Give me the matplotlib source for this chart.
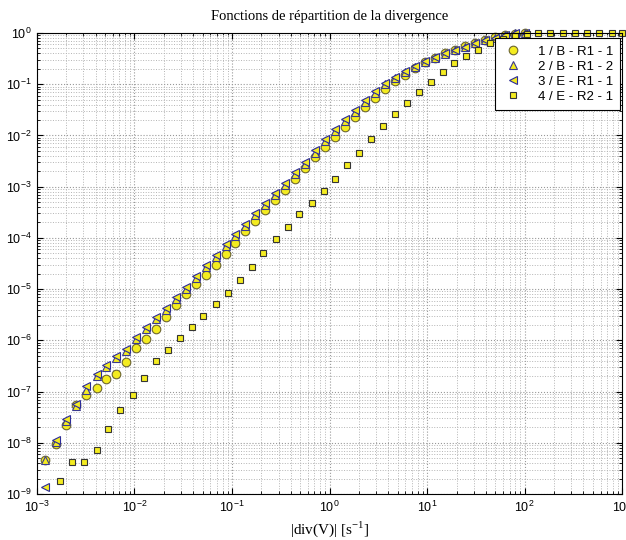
import matplotlib
matplotlib.use("Agg")
import matplotlib.pyplot as plt

# ==============================
# Data
# ==============================

# common abscissa of series 1-3
x_tri = [1.21e-3, 1.57e-3, 1.98e-3, 2.51e-3, 3.18e-3, 4.12e-3, 5.10e-3, 6.46e-3,
         8.18e-3, 1.036e-2, 1.31e-2, 1.66e-2, 2.10e-2, 2.66e-2, 3.37e-2, 4.27e-2,
         5.41e-2, 6.85e-2, 8.68e-2, 0.107, 0.136, 0.172, 0.218, 0.276, 0.350,
         0.443, 0.561, 0.710, 0.899, 1.14, 1.44, 1.83, 2.31, 2.93, 3.71, 4.70,
         5.95, 7.53, 9.53, 12.1, 15.3, 19.4, 24.5, 31.1, 39.4, 49.8, 63.1, 79.9,
         101.0]

y_s1 = [4.64e-9, 9.55e-9, 2.25e-8, 5.56e-8, 8.73e-8, 1.20e-7, 1.80e-7, 2.25e-7,
        3.71e-7, 6.97e-7, 1.05e-6, 1.64e-6, 2.83e-6, 4.86e-6, 7.97e-6, 1.25e-5,
        1.88e-5, 2.96e-5, 4.86e-5, 7.97e-5, 1.37e-4, 2.15e-4, 3.54e-4, 5.56e-4,
        8.73e-4, 1.43e-3, 2.36e-3, 3.71e-3, 5.82e-3, 9.14e-3, 1.43e-2, 2.25e-2,
        3.54e-2, 5.31e-2, 7.97e-2, 0.115, 0.150, 0.206, 0.270, 0.324, 0.405,
        0.464, 0.556, 0.637, 0.729, 0.835, 0.914, 0.956, 1.0]

y_s2 = [4.64e-9, 1.05e-8, 2.70e-8, 5.31e-8, 1.09e-7, 2.06e-7, 3.09e-7, 4.44e-7,
        6.08e-7, 1.05e-6, 1.64e-6, 2.58e-6, 3.87e-6, 6.37e-6, 1.00e-5, 1.64e-5,
        2.70e-5, 4.24e-5, 6.97e-5, 1.09e-4, 1.72e-4, 2.83e-4, 4.44e-4, 6.97e-4,
        1.09e-3, 1.80e-3, 2.83e-3, 4.64e-3, 7.63e-3, 1.20e-2, 1.88e-2, 2.83e-2,
        4.44e-2, 6.66e-2, 0.100, 0.131, 0.172, 0.216, 0.270, 0.331, 0.396,
        0.464, 0.531, 0.637, 0.729, 0.798, 0.914, 0.978, 1.0]

y_s3 = [1.37e-9, 1.15e-8, 2.96e-8, 5.82e-8, 1.31e-7, 2.25e-7, 3.38e-7, 4.85e-7,
        6.66e-7, 1.15e-6, 1.80e-6, 2.83e-6, 4.24e-6, 6.97e-6, 1.09e-5, 1.80e-5,
        2.96e-5, 4.64e-5, 7.63e-5, 1.20e-4, 1.88e-4, 3.09e-4, 4.86e-4, 7.62e-4,
        1.20e-3, 1.97e-3, 3.09e-3, 5.08e-3, 8.35e-3, 1.31e-2, 2.06e-2, 3.09e-2,
        4.86e-2, 7.29e-2, 0.105, 0.137, 0.180, 0.225, 0.282, 0.338, 0.405,
        0.464, 0.531, 0.637, 0.729, 0.798, 0.914, 0.978, 1.0]

# series 4 has its own abscissa
x_s4 = [1.72e-3, 2.29e-3, 3.03e-3, 4.12e-3, 5.35e-3, 7.10e-3, 9.66e-3, 1.25e-2,
        1.66e-2, 2.21e-2, 2.93e-2, 3.89e-2, 5.05e-2, 6.85e-2, 9.10e-2, 0.121,
        0.160, 0.208, 0.282, 0.375, 0.486, 0.662, 0.879, 1.14, 1.51, 2.01, 2.67,
        3.54, 4.70, 6.24, 8.28, 11.0, 14.6, 18.9, 25.1, 33.3, 44.3, 60.1, 79.9,
        106.0, 137.0, 183.0, 248.0, 330.0, 438.0, 581.0, 789.0, 1000.0]

y_s4 = [1.80e-9, 4.24e-9, 4.24e-9, 7.29e-9, 1.88e-8, 4.44e-8, 8.73e-8, 1.88e-7,
        3.88e-7, 6.37e-7, 1.09e-6, 1.80e-6, 2.96e-6, 5.08e-6, 8.35e-6, 1.50e-5,
        2.70e-5, 5.08e-5, 9.55e-5, 1.64e-4, 2.96e-4, 4.86e-4, 8.35e-4, 1.43e-3,
        2.70e-3, 4.64e-3, 8.35e-3, 1.50e-2, 2.58e-2, 4.24e-2, 6.97e-2, 0.109,
        0.172, 0.258, 0.354, 0.464, 0.637, 0.763, 0.874, 0.956, 1.0, 1.0, 1.0,
        1.0, 1.0, 1.0, 1.0, 1.0]

labels = ["1 / B - R1 - 1", "2 / B - R1 - 2", "3 / E - R1 - 1", "4 / E - R2 - 1"]

# ==============================
# Style
# ==============================

plt.rcParams["font.family"] = ["Liberation Sans", "DejaVu Sans"]
plt.rcParams["font.size"] = 9

YELLOW = "#f4ec20"

fig = plt.figure(figsize=(6.26, 5.40), dpi=100)
ax = fig.add_axes([0.059, 0.085, 0.935, 0.854])

ax.plot(x_tri, y_s1, linestyle="none", marker="o", ms=6.2, mfc=YELLOW,
        mec="#6b6530", mew=0.8, label=labels[0], clip_on=False)
ax.plot(x_tri, y_s2, linestyle="none", marker="^", ms=5.5, mfc=YELLOW,
        mec="#3a3a90", mew=0.8, label=labels[1], clip_on=False)
ax.plot(x_tri, y_s3, linestyle="none", marker="<", ms=5.5, mfc=YELLOW,
        mec="#2c2c9a", mew=0.8, label=labels[2], clip_on=False)
ax.plot(x_s4, y_s4, linestyle="none", marker="s", ms=5.0, mfc=YELLOW,
        mec="#353535", mew=0.8, label=labels[3], clip_on=False)

ax.set_xscale("log")
ax.set_yscale("log")
ax.set_xlim(1e-3, 1e3)
ax.set_ylim(1e-9, 1e0)

ax.xaxis.set_major_locator(matplotlib.ticker.LogLocator(base=10, numticks=10))
ax.yaxis.set_major_locator(matplotlib.ticker.LogLocator(base=10, numticks=12))
ax.xaxis.set_minor_locator(matplotlib.ticker.LogLocator(base=10, subs=range(2, 10), numticks=12))
ax.yaxis.set_minor_locator(matplotlib.ticker.LogLocator(base=10, subs=range(2, 10), numticks=12))

ax.grid(True, which="major", linestyle=":", color="#999999", linewidth=0.8)
ax.grid(True, which="minor", linestyle=":", color="#b4b4b4", linewidth=0.7)
ax.set_axisbelow(True)

ax.tick_params(which="both", direction="in", top=True, right=True)
ax.tick_params(which="major", length=4, labelsize=9, pad=4)
ax.tick_params(which="minor", length=2)
for s in ax.spines.values():
    s.set_linewidth(0.8)

ax.set_title("Fonctions de répartition de la divergence",
             family="Liberation Serif", fontsize=10.5, pad=9)
ax.set_xlabel(r"|div(V)| [s$^{\mathdefault{-1}}$]",
              family="Liberation Serif", fontsize=11, labelpad=3)

leg = ax.legend(loc="upper right", bbox_to_anchor=(0.997, 0.988),
                fancybox=False, framealpha=1, edgecolor="black",
                fontsize=9.5, handlelength=1.6, handletextpad=1.1,
                borderpad=0.55, labelspacing=0.2, borderaxespad=0)
leg.get_frame().set_linewidth(0.8)

fig.savefig("out.png", dpi=100, facecolor="white")
